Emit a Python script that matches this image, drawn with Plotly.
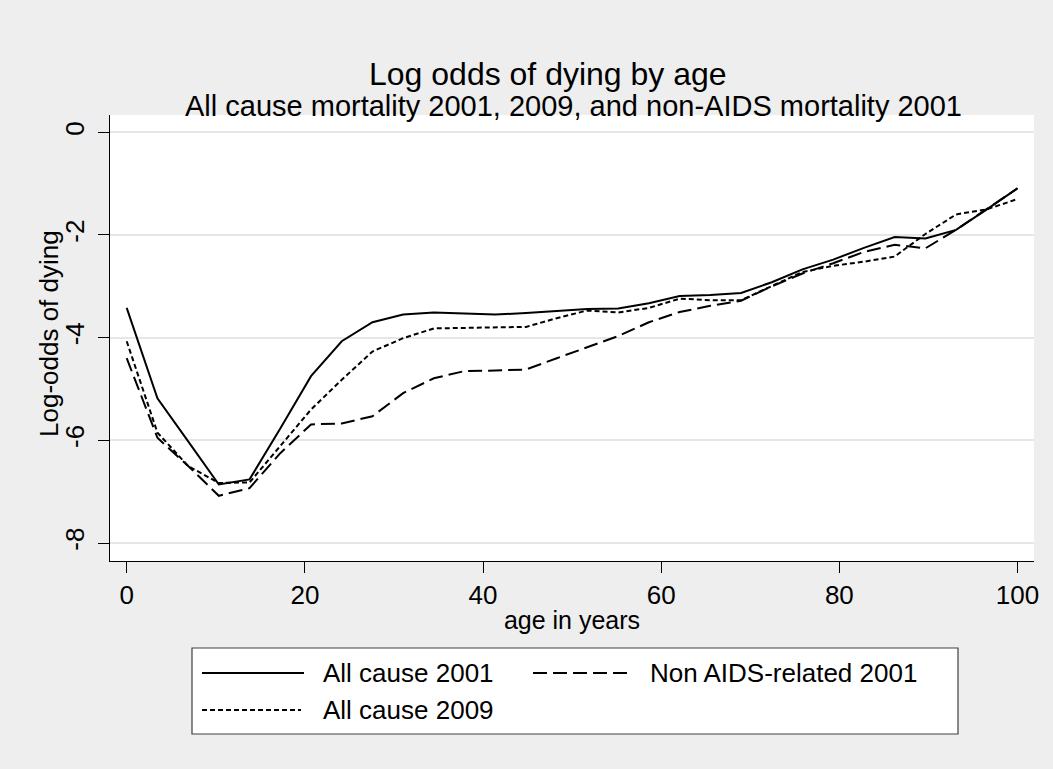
import plotly.graph_objects as go

# ---------------- data ----------------
age = [0, 3.45, 6.9, 10.34, 13.79, 17.24, 20.69, 24.14, 27.59, 31.03,
       34.48, 37.93, 41.38, 44.83, 48.28, 51.72, 55.17, 58.62, 62.07, 65.52,
       68.97, 72.41, 75.86, 79.31, 82.76, 86.21, 89.66, 93.10, 96.55, 100]

all_cause_2001 = [-3.42, -5.18, -6.02, -6.86, -6.76, -5.77, -4.75, -4.07, -3.70, -3.55,
                  -3.51, -3.53, -3.55, -3.52, -3.48, -3.44, -3.43, -3.33, -3.19, -3.17,
                  -3.13, -2.92, -2.67, -2.48, -2.25, -2.04, -2.07, -1.90, -1.50, -1.09]

non_aids_2001 = [-4.40, -5.95, -6.50, -7.08, -6.93, -6.25, -5.69, -5.67, -5.53, -5.08,
                 -4.79, -4.65, -4.64, -4.62, -4.40, -4.18, -3.97, -3.70, -3.50, -3.38,
                 -3.28, -3.00, -2.75, -2.55, -2.33, -2.19, -2.26, -1.90, -1.50, -1.09]

all_cause_2009 = [-4.07, -5.85, -6.50, -6.83, -6.82, -6.12, -5.40, -4.82, -4.27, -4.01,
                  -3.82, -3.81, -3.80, -3.79, -3.62, -3.47, -3.51, -3.42, -3.24, -3.27,
                  -3.27, -3.00, -2.72, -2.60, -2.52, -2.42, -1.98, -1.60, -1.50, -1.30]

x_ticks = [0, 20, 40, 60, 80, 100]
x_ticktext = ["0", "20", "40", "60", "80", "100"]
y_ticks = [0, -2, -4, -6, -8]
y_ticktext = ["0", "-2", "-4", "-6", "-8"]

series_names = ["All cause 2001", "Non AIDS-related 2001", "All cause 2009"]

# ---------------- styling / layout ----------------
W, H = 1053, 769
PL, PR, PT, PB = 110, 1034, 115, 561   # plot area in pixels
FONT = "Liberation Sans, Arial, sans-serif"
LONG = "14px,6px"
SHORT = "5px,3px"


def px_x(p):
    return (p - PL) / (PR - PL)


def px_y(p):
    return (PB - p) / (PB - PT)


fig = go.Figure()
fig.add_trace(go.Scatter(x=age, y=all_cause_2001, mode="lines", name=series_names[0],
                         line=dict(color="black", width=2), showlegend=False))
fig.add_trace(go.Scatter(x=age, y=non_aids_2001, mode="lines", name=series_names[1],
                         line=dict(color="black", width=2, dash=LONG), showlegend=False))
fig.add_trace(go.Scatter(x=age, y=all_cause_2009, mode="lines", name=series_names[2],
                         line=dict(color="black", width=2, dash=SHORT), showlegend=False))

shapes = []
annotations = []

# legend box
shapes.append(dict(type="rect", xref="paper", yref="paper",
                   x0=px_x(192), x1=px_x(958), y0=px_y(734), y1=px_y(648),
                   line=dict(color="#404040", width=1.2), fillcolor="white", layer="below"))

legend_items = [
    (series_names[0], None, 202, 304, 321, 673),
    (series_names[1], LONG, 533, 630, 648, 673),
    (series_names[2], SHORT, 202, 301, 321, 710),
]
for name, dash, sx0, sx1, tx, ty in legend_items:
    ln = dict(color="black", width=2)
    if dash:
        ln["dash"] = dash
    shapes.append(dict(type="line", xref="paper", yref="paper",
                       x0=px_x(sx0), x1=px_x(sx1), y0=px_y(ty), y1=px_y(ty), line=ln))
    annotations.append(dict(text=name, xref="paper", yref="paper", x=px_x(tx), y=px_y(ty),
                            xanchor="left", yanchor="middle", showarrow=False,
                            font=dict(family=FONT, size=26, color="black")))

# titles
annotations.append(dict(text="Log odds of dying by age", xref="paper", yref="paper",
                        x=px_x(548), y=px_y(74), xanchor="center", yanchor="middle",
                        showarrow=False, font=dict(family=FONT, size=32, color="black")))
annotations.append(dict(text="All cause mortality 2001, 2009, and non-AIDS mortality 2001",
                        xref="paper", yref="paper", x=px_x(573), y=px_y(106), xanchor="center",
                        yanchor="middle", showarrow=False,
                        font=dict(family=FONT, size=29, color="black")))
# y-axis title
annotations.append(dict(text="Log-odds of dying", xref="paper", yref="paper",
                        x=px_x(49), y=px_y(334), xanchor="center", yanchor="middle",
                        textangle=-90, showarrow=False,
                        font=dict(family=FONT, size=26, color="black")))

fig.update_layout(
    width=W, height=H,
    margin=dict(l=PL, r=W - PR, t=PT, b=H - PB),
    paper_bgcolor="#EEEEEE",
    plot_bgcolor="white",
    font=dict(family=FONT, size=26, color="black"),
    shapes=shapes,
    annotations=annotations,
    showlegend=False,
)

fig.update_xaxes(
    range=[-1.875, 101.85], tickvals=x_ticks, ticktext=x_ticktext,
    showgrid=False, zeroline=False, showline=True, linecolor="black", linewidth=1,
    ticks="outside", ticklen=11, tickcolor="black", tickwidth=1,
    tickfont=dict(family=FONT, size=26),
    title=dict(text="age in years", font=dict(family=FONT, size=25), standoff=2),
)
fig.update_yaxes(
    range=[-8.35, 0.337], tickvals=y_ticks, ticktext=y_ticktext, tickangle=-90,
    showgrid=True, gridcolor="#E6E6E6", gridwidth=2, zeroline=False,
    showline=True, linecolor="black", linewidth=1,
    ticks="outside", ticklen=11, tickcolor="black", tickwidth=1,
    tickfont=dict(family=FONT, size=26), ticklabelstandoff=4,
)

fig.write_html("out.html",
               config={"displayModeBar": False},
               post_script="document.body.style.margin='0';document.body.style.padding='0';")
